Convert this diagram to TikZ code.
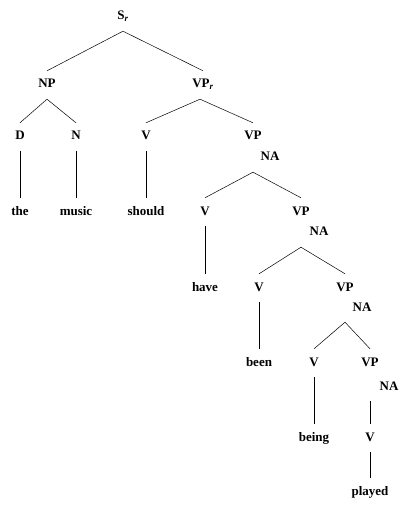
\documentclass[tikz,border=0pt]{standalone}
\usepackage{fontspec}
\setmainfont{Liberation Serif}
\usetikzlibrary{positioning}
\tikzset{
  cat/.style={
    font=\bfseries\fontsize{13}{15}\selectfont,
    inner sep=0pt, text height=9pt, text depth=3pt,
    minimum height=28pt
  },
  word/.style={cat},
  nalabel/.style={cat},
  branch/.style={line width=0.5pt, black},
}

\begin{document}
\begin{tikzpicture}[x=1pt, y=-1pt]

  \useasboundingbox (0,0) rectangle (409,510);

  % -- top of the tree --
  \node[cat] (sr)  at (123,17) {S\textsubscript{\textit{r}}};
  \node[cat] (np)  at (47,85)  {NP};
  \node[cat] (vpr) at (203,85) {VP\textsubscript{\textit{r}}};

  \node[cat] (d)   at (20,137)  {D};
  \node[cat] (n)   at (76,137)  {N};
  \node[cat] (v1)  at (146,137) {V};
  \node[cat] (vp1) at (253,137) {VP};
  \node[nalabel] (na1) at (270,158) {NA};

  \node[word] (the)    at (20,212)  {the};
  \node[word] (music)  at (76,212)  {music};
  \node[word] (should) at (146,212) {should};
  \node[cat]  (v2)     at (205,212) {V};
  \node[cat]  (vp2)    at (301,212) {VP};
  \node[nalabel] (na2) at (319,233) {NA};

  % -- auxiliary chain --
  \node[word] (have) at (205,288) {have};
  \node[cat]  (v3)   at (259,288) {V};
  \node[cat]  (vp3)  at (345,288) {VP};
  \node[nalabel] (na3) at (362,308) {NA};

  \node[word] (been) at (259,363) {been};
  \node[cat]  (v4)   at (314,363) {V};
  \node[cat]  (vp4)  at (370,363) {VP};
  \node[nalabel] (na4) at (389,387) {NA};

  \node[word] (being)  at (314,438) {being};
  \node[cat]  (v5)     at (370,438) {V};
  \node[word] (played) at (370,492) {played};

  % -- branches --
  \draw[branch] (np.north) -- (sr.south) -- (vpr.north);
  \draw[branch] (d.north) -- (np.south) -- (n.north);
  \draw[branch] (v1.north) -- ([xshift=-3pt]vpr.south) -- (vp1.north);
  \draw[branch] (d) -- (the);
  \draw[branch] (n) -- (music);
  \draw[branch] (v1) -- (should);

  \draw[branch] (v2.north) -- (vp1 |- na1.south) -- (vp2.north);
  \draw[branch] (v2) -- (have);
  \draw[branch] (v3.north) -- (vp2 |- na2.south) -- (vp3.north);
  \draw[branch] (v3) -- (been);
  \draw[branch] (v4.north) -- (vp3 |- na3.south) -- (vp4.north);
  \draw[branch] (v4) -- (being);
  \draw[branch] (vp4 |- na4.south) -- (v5.north);
  \draw[branch] (v5) -- (played);

\end{tikzpicture}
\end{document}
